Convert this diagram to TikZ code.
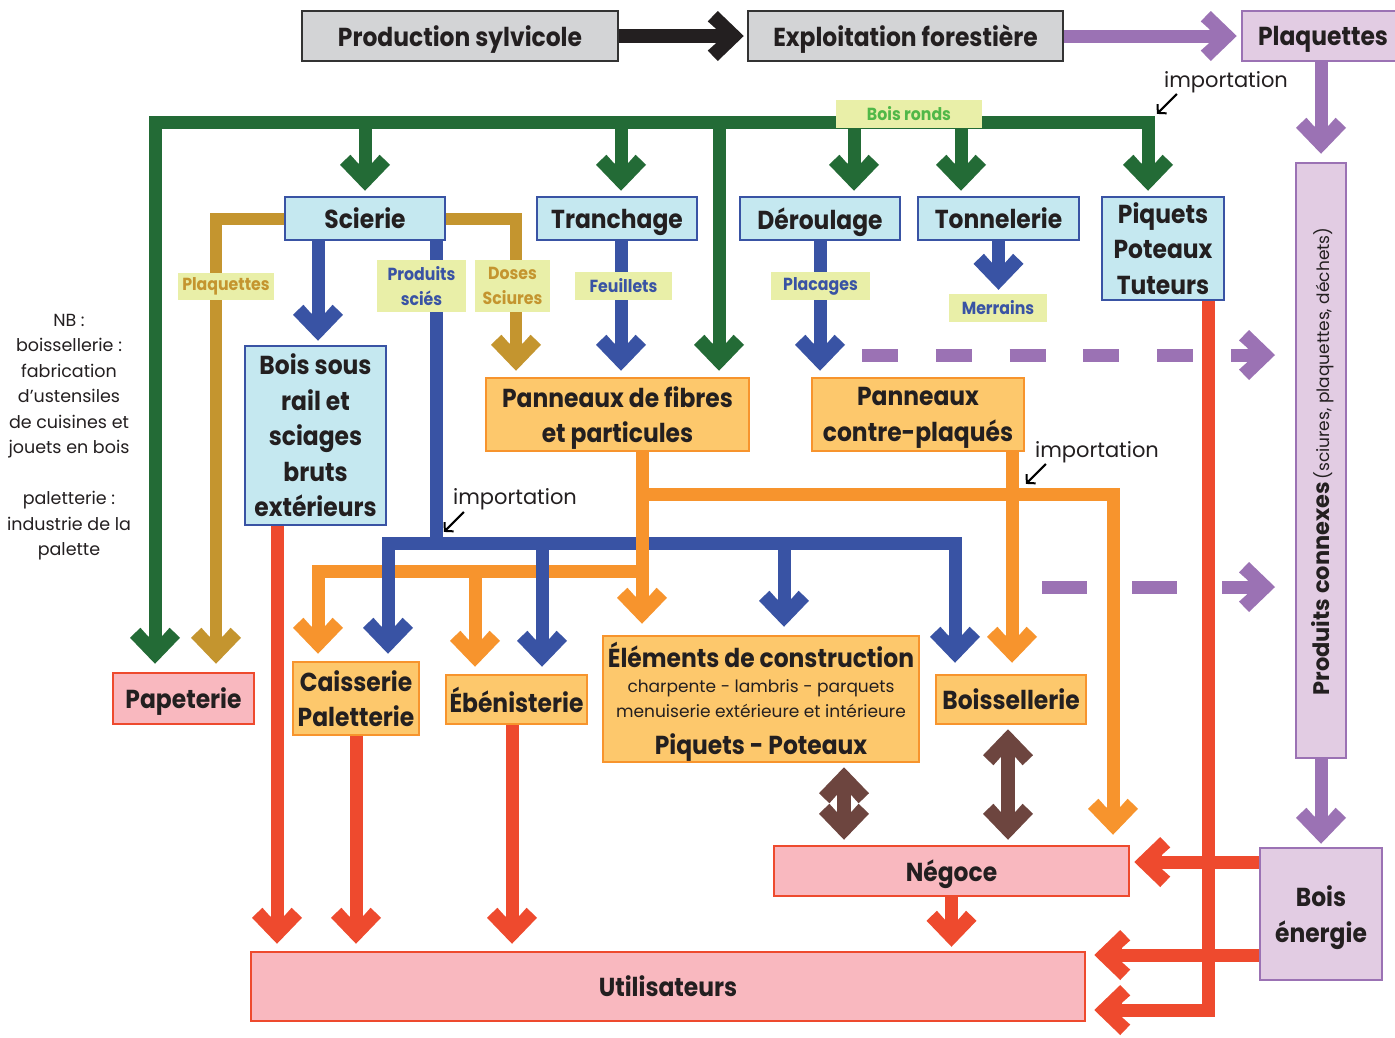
\documentclass[tikz,border=0pt]{standalone}
\usepackage{fontspec}
\setmainfont{Poppins}
\newfontfamily\bfnt{Poppins}[FakeStretch=0.9]
\usetikzlibrary{arrows.meta,calc}
\pgfdeclarelayer{bg}
\pgfsetlayers{bg,main}

\pgfdeclarearrow{
  name = Chev,
  setup code = {
    \pgfarrowssettipend{0pt}
    \pgfarrowssetlineend{-24pt}
    \pgfarrowssetbackend{-36pt}
    \pgfarrowshullpoint{0pt}{0pt}
    \pgfarrowshullpoint{-36pt}{25pt}
    \pgfarrowshullpoint{-36pt}{-25pt}
  },
  drawing code = {
    \pgfpathmoveto{\pgfqpoint{0pt}{0pt}}
    \pgfpathlineto{\pgfqpoint{-26pt}{25pt}}
    \pgfpathlineto{\pgfqpoint{-36pt}{14.6pt}}
    \pgfpathlineto{\pgfqpoint{-27.5pt}{7pt}}
    \pgfpathlineto{\pgfqpoint{-27.5pt}{-7pt}}
    \pgfpathlineto{\pgfqpoint{-36pt}{-14.6pt}}
    \pgfpathlineto{\pgfqpoint{-26pt}{-25pt}}
    \pgfpathclose
    \pgfusepathqfill
  }
}

\definecolor{txt}{RGB}{35,31,32}
\definecolor{grayf}{RGB}{211,212,214}
\definecolor{grayd}{RGB}{51,51,51}
\definecolor{blk}{RGB}{35,31,32}
\definecolor{purl}{RGB}{155,114,180}
\definecolor{purf}{RGB}{226,204,227}
\definecolor{grn}{RGB}{35,107,54}
\definecolor{grnt}{RGB}{80,184,72}
\definecolor{goldc}{RGB}{196,149,47}
\definecolor{blu}{RGB}{57,83,164}
\definecolor{bluf}{RGB}{197,232,240}
\definecolor{orl}{RGB}{247,148,45}
\definecolor{orf}{RGB}{253,200,108}
\definecolor{redl}{RGB}{238,74,46}
\definecolor{pnk}{RGB}{249,184,191}
\definecolor{labf}{RGB}{233,239,168}
\definecolor{brn}{RGB}{109,69,63}

\newcommand\fA{\bfnt\bfseries\fontsize{26}{35.5}\selectfont}
\newcommand\fL{\bfnt\bfseries\fontsize{17.5}{25}\selectfont}
\newcommand\fR{\fontsize{17.5}{25.5}\selectfont}
\newcommand\fS{\fontsize{17}{25}\selectfont}
\newcommand\fI{\fontsize{21}{25}\selectfont}

\begin{document}
\begin{tikzpicture}[x=1pt,y=-1pt,line join=miter,
  box/.style={draw, line width=2.5pt, inner sep=0pt, align=center, text=txt, font=\fA, text depth=0pt},
  gbox/.style={box, fill=grayf, draw=grayd},
  bbox/.style={box, fill=bluf, draw=blu},
  obox/.style={box, fill=orf, draw=orl},
  rbox/.style={box, fill=pnk, draw=redl},
  pbox/.style={box, fill=purf, draw=purl},
  lab/.style={fill=labf, inner sep=0pt, align=center, font=\fL},
  cn/.style={line width=13pt},
  arr/.style={-Chev, shorten >=6pt},
  darr/.style={{Chev}-{Chev}, shorten >=5pt, shorten <=4pt},
  imp/.style={line width=2pt, color=black, -{Straight Barb[length=6pt,width=13pt]}},
  note/.style={align=center, text=txt, inner sep=0pt}
]
\useasboundingbox (0,0) rectangle (1395,1037);
\begin{pgfonlayer}{bg}
\fill[white] (0,0) rectangle (1395,1037);
\end{pgfonlayer}

% ---------- nodes ----------
\node[gbox, minimum width=316, minimum height=50] (prod) at (460,36) {Production sylvicole};
\node[gbox, minimum width=315, minimum height=50] (expl) at (905.5,36) {Exploitation forestière};
\node[pbox, minimum width=160, minimum height=50] (plaqT) at (1322,36) {Plaquettes\hspace*{-2pt}};
\node[pbox, minimum width=50, minimum height=595] (pc) at (1321,460.5) {};
\node[rotate=90, text=txt, inner sep=0pt] (pctext) at (1323,461.5) {{\bfseries\fontsize{22.5}{25}\selectfont Produits connexes}\ {\fontsize{17}{20}\selectfont (sciures, plaquettes, déchets)}};
\node[pbox, minimum width=122, minimum height=132] (be) at (1321,914) {Bois\\énergie};

\node[bbox, minimum width=160, minimum height=43] (scierie) at (365,218.5) {Scierie};
\node[bbox, minimum width=160, minimum height=43] (tranch) at (617,218.5) {Tranchage};
\node[bbox, minimum width=160, minimum height=43] (deroul) at (820,218.5) {Déroulage};
\node[bbox, minimum width=161, minimum height=43] (tonnel) at (998.5,218.5) {Tonnelerie};
\node[bbox, minimum width=122, minimum height=103] (piquets) at (1163,248.5) {Piquets\\Poteaux\\Tuteurs};

\node[bbox, minimum width=141, minimum height=179] (bsr) at (315.5,435.5) {Bois sous\\rail et\\sciages\\bruts\\extérieurs};
\node[obox, minimum width=263, minimum height=73] (pfib) at (617.5,414.5) {Panneaux de fibres\\et particules};
\node[obox, minimum width=212, minimum height=73] (pcp) at (918,414.5) {Panneaux\\contre-plaqués};

\node[rbox, minimum width=141, minimum height=51] (pap) at (183.5,698.5) {Papeterie};
\node[obox, minimum width=126, minimum height=73] (cais) at (356,698.5) {Caisserie\\Paletterie};
\node[obox, minimum width=141, minimum height=49] (ebe) at (516.5,699.5) {Ébénisterie};
\node[obox, minimum width=316, minimum height=126] (elem) at (761,699) {};
\node[note, font=\fA, anchor=base] (elem1) at (761,667) {Éléments de construction};
\node[note, font=\fS, anchor=base] (elem2) at (761,692) {charpente - lambris - parquets};
\node[note, font=\fS, anchor=base] (elem3) at (761,717) {menuiserie extérieure et intérieure};
\node[note, font=\fA, anchor=base] (elem4) at (761,754) {Piquets - Poteaux};
\node[obox, minimum width=150, minimum height=49] (bois) at (1011,699.5) {Boissellerie};
\node[rbox, minimum width=355, minimum height=50] (neg) at (951.5,871) {Négoce};
\node[rbox, minimum width=834, minimum height=69] (util) at (668,986.5) {Utilisateurs};

% ---------- labels ----------
\node[lab, text=grnt, minimum width=146, minimum height=28] (lbr) at (909,114) {Bois ronds};
\node[lab, text=goldc, minimum width=96, minimum height=27] (lplaq) at (226,286.5) {Plaquettes};
\node[lab, text=blu, minimum width=89, minimum height=52] (lprod) at (421.5,286) {Produits\\sciés};
\node[lab, text=goldc, minimum width=75, minimum height=52] (ldos) at (512.5,286) {Doses\\Sciures};
\node[lab, text=blu, minimum width=97, minimum height=28] (lfeu) at (623.5,286) {Feuillets};
\node[lab, text=blu, minimum width=99, minimum height=28] (lplac) at (820.5,286) {Placages};
\node[lab, text=blu, minimum width=98, minimum height=28] (lmer) at (998,308) {Merrains};

% ---------- notes ----------
\node[note, font=\fR] (nb) at (69,437) {NB :\\boissellerie :\\fabrication\\d'ustensiles\\de cuisines et\\jouets en bois\\[25.5pt]paletterie :\\industrie de la\\palette};
\node[note, font=\fI] (imp1) at (1226,82) {importation};
\node[note, font=\fI] (imp2) at (515,499) {importation};
\node[note, font=\fI] (imp3) at (1097,452) {importation};

% ---------- coordinates ----------
\coordinate (gL) at (155,122);
\coordinate (gR) at (1148,122);
\coordinate (gT) at (621,122);
\coordinate (gF) at (719,122);
\coordinate (gD) at (854,122);
\coordinate (gN) at (961,122);
\coordinate (au1) at (216,220);
\coordinate (au2) at (516,220);
\coordinate (bS) at (318,0);
\coordinate (bus) at (436,543);
\coordinate (bL) at (388,543);
\coordinate (bR) at (955,543);
\coordinate (bE) at (542,543);
\coordinate (bC) at (784,543);
\coordinate (bT) at (621,0);
\coordinate (o1) at (642,494);
\coordinate (o2) at (642,571);
\coordinate (oN) at (1113,494);
\coordinate (oC) at (318,571);
\coordinate (oE) at (475,571);
\coordinate (oB) at (1012,494);
\coordinate (rS) at (277,0);
\coordinate (rE) at (512,0);
\coordinate (rC) at (1208,1010);
\coordinate (rN) at (1260,862);
\coordinate (rV) at (1260,955);
\coordinate (br1) at (844,0);
\coordinate (br2) at (1008,0);
\coordinate (d1s) at (862,355);
\coordinate (d1e) at (1275,355);
\coordinate (d2s) at (1042,587);
\coordinate (d2e) at (1275,587);

% ---------- connectors ----------
\begin{pgfonlayer}{bg}
% black & purple top
\draw[cn, line width=14pt, color=blk, -Chev, shorten >=3pt] (prod.east) -- (expl.west);
\draw[cn, color=purl, -Chev, shorten >=4pt] (expl.east) -- (plaqT.west);
\draw[cn, color=purl, arr, shorten >=8pt] (plaqT.south -| pc.north) -- (pc.north);
\draw[cn, color=purl, arr, shorten >=3pt] (pc.south) -- (be.north);
% dashed purple
\draw[cn, color=purl, dash pattern=on 36pt off 37.8pt, -Chev] (d1s) -- (d1e);
\draw[cn, color=purl, dash pattern=on 45pt off 45pt, -Chev] (d2s) -- (d2e);

% green
\draw[cn, color=grn, {Chev}-{Chev}, shorten <=8pt, shorten >=5pt] (gL |- pap.north) -- (gL) -- (gR) -- (gR |- piquets.north);
\draw[cn, color=grn, arr, shorten >=5pt] (scierie.north |- gL) -- (scierie.north);
\draw[cn, color=grn, arr, shorten >=5pt] (gT) -- (gT |- tranch.north);
\draw[cn, color=grn, arr] (gF) -- (gF |- pfib.north);
\draw[cn, color=grn, arr, shorten >=5pt] (gD) -- (gD |- deroul.north);
\draw[cn, color=grn, arr, shorten >=5pt] (gN) -- (gN |- tonnel.north);

% gold
\draw[cn, line width=12pt, color=goldc, arr, shorten >=8pt] (scierie.west) -- (scierie.west -| au1) -- (au1 |- pap.north);
\draw[cn, line width=12pt, color=goldc, arr] (scierie.east) -- (scierie.east -| au2) -- (au2 |- pfib.north);

% blue from second row
\draw[cn, color=blu, arr, shorten >=4pt] (scierie.south -| bS) -- (bS |- bsr.north);
\draw[cn, color=blu, arr] (tranch.south -| bT) -- (bT |- pfib.north);
\draw[cn, color=blu, arr] (deroul.south) -- (deroul.south |- pcp.north);
\draw[cn, color=blu, arr, shorten >=4pt] (tonnel.south) -- (tonnel.south |- lmer.north);

% orange branches (below blue)
\draw[cn, color=orl, arr, shorten >=7pt] (o2) -- (oC) -- (oC |- cais.north);
\draw[cn, color=orl, arr, shorten >=7pt] (oE) -- (oE |- ebe.north);
\draw[cn, color=orl, arr, shorten >=10pt] (o1) -- (oN) -- (oN |- neg.north);

% blue bus
\draw[cn, color=blu] (scierie.south -| bus) -- (bus);
\draw[cn, color=blu, {Chev}-{Chev}, shorten <=7pt, shorten >=11pt] (bL |- cais.north) -- (bL) -- (bR) -- (bR |- bois.north);
\draw[cn, color=blu, arr, shorten >=7pt] (bE) -- (bE |- ebe.north);
\draw[cn, color=blu, arr, shorten >=8pt] (bC) -- (bC |- elem.north);

% orange verticals (on top)
\draw[cn, color=orl, arr, shorten >=11pt] (pfib.south -| o1) -- (o1 |- elem.north);
\draw[cn, color=orl, arr, shorten >=11pt] (pcp.south -| oB) -- (oB |- bois.north);

% red
\draw[cn, color=redl, arr, shorten >=7pt] (bsr.south -| rS) -- (rS |- util.north);
\draw[cn, color=redl, arr, shorten >=7pt] (cais.south) -- (cais.south |- util.north);
\draw[cn, color=redl, arr, shorten >=7pt] (ebe.south -| rE) -- (rE |- util.north);
\draw[cn, color=redl, arr, shorten >=4pt] (neg.south) -- (neg.south |- util.north);
\draw[cn, color=redl, arr, shorten >=8pt] (piquets.south -| rC) -- (rC) -- (rC -| util.east);
\draw[cn, color=redl, arr, shorten >=4pt] (rN) -- (rN -| neg.east);
\draw[cn, color=redl, arr, shorten >=8pt] (rV) -- (rV -| util.east);

% brown double arrows
\draw[cn, line width=14pt, color=brn, darr] (elem.south -| br1) -- (br1 |- neg.north);
\draw[cn, line width=14pt, color=brn, darr] (bois.south -| br2) -- (br2 |- neg.north);

% importation arrows
\draw[imp] ($(imp1.south west)+(13,1)$) -- ++(-20,20);
\draw[imp] ($(imp2.south west)+(11,2)$) -- ++(-20,20);
\draw[imp] ($(imp3.south west)+(11,1)$) -- ++(-20,20);
\end{pgfonlayer}
\end{tikzpicture}
\end{document}
